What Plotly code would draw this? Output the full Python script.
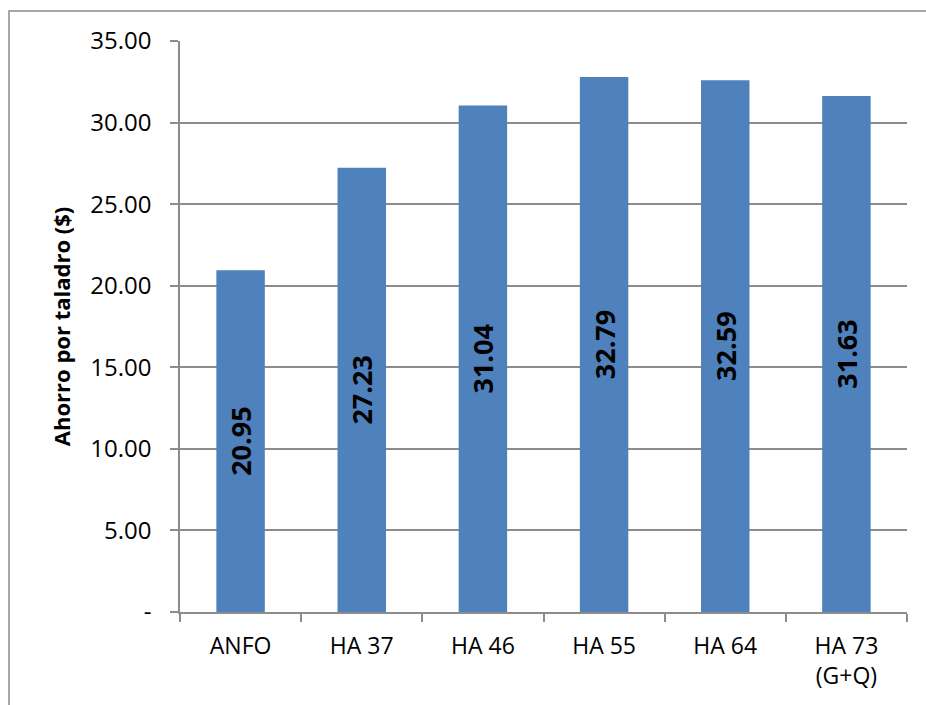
import plotly.graph_objects as go

categories = ["ANFO", "HA 37", "HA 46", "HA 55", "HA 64", "HA 73<br>(G+Q)"]
values = [20.95, 27.23, 31.04, 32.79, 32.59, 31.63]
y_tick_vals = [0, 5, 10, 15, 20, 25, 30, 35]
y_tick_text = ["-", "5.00", "10.00", "15.00", "20.00", "25.00", "30.00", "35.00"]
y_title = "Ahorro por taladro ($)"

FONT = "Open Sans"
GRID = "#8c8c8c"

fig = go.Figure(go.Bar(
    x=categories,
    y=values,
    width=0.4,
    marker=dict(color="#4F81BD", line=dict(width=0)),
    text=[f"{v:.2f}" for v in values],
    textposition="inside",
    insidetextanchor="middle",
    textangle=-90,
    textfont=dict(family=FONT, size=27, color="black", weight="bold"),
    cliponaxis=False,
))

L, R, T, B = 180, 19, 41, 93
W, H = 926, 705
pw, ph = W - L - R, H - T - B

fig.update_layout(
    width=W, height=H,
    margin=dict(l=L, r=R, t=T, b=B, autoexpand=False),
    paper_bgcolor="white", plot_bgcolor="white",
    showlegend=False,
    bargap=0.6,
    xaxis=dict(
        type="category",
        showline=True, linecolor=GRID, linewidth=1.5,
        ticks="outside", ticklen=8, tickcolor=GRID, tickwidth=1.5,
        tickson="boundaries",
        showgrid=False,
        tickfont=dict(family=FONT, size=23, color="black"),
        ticklabelstandoff=13,
        automargin=False,
    ),
    yaxis=dict(
        range=[0, 35],
        tickvals=y_tick_vals, ticktext=y_tick_text,
        showline=True, linecolor=GRID, linewidth=1.5,
        ticks="outside", ticklen=8, tickcolor=GRID, tickwidth=1.5,
        showgrid=True, gridcolor=GRID, gridwidth=1.5,
        zeroline=False,
        tickfont=dict(family=FONT, size=24, color="black"),
        ticklabelstandoff=14,
        title=dict(text=y_title, font=dict(family=FONT, size=22, color="black", weight="bold"), standoff=14),
        automargin=False,
    ),
    shapes=[dict(
        type="rect", xref="paper", yref="paper",
        x0=(9 - L) / pw, x1=(940 - L) / pw,
        y0=(H - B - 720) / ph, y1=(H - B - 11) / ph,
        line=dict(color="#8c8c8c", width=1.5), fillcolor="rgba(0,0,0,0)",
        layer="below",
    )],
)

fig.write_html("out.html")
